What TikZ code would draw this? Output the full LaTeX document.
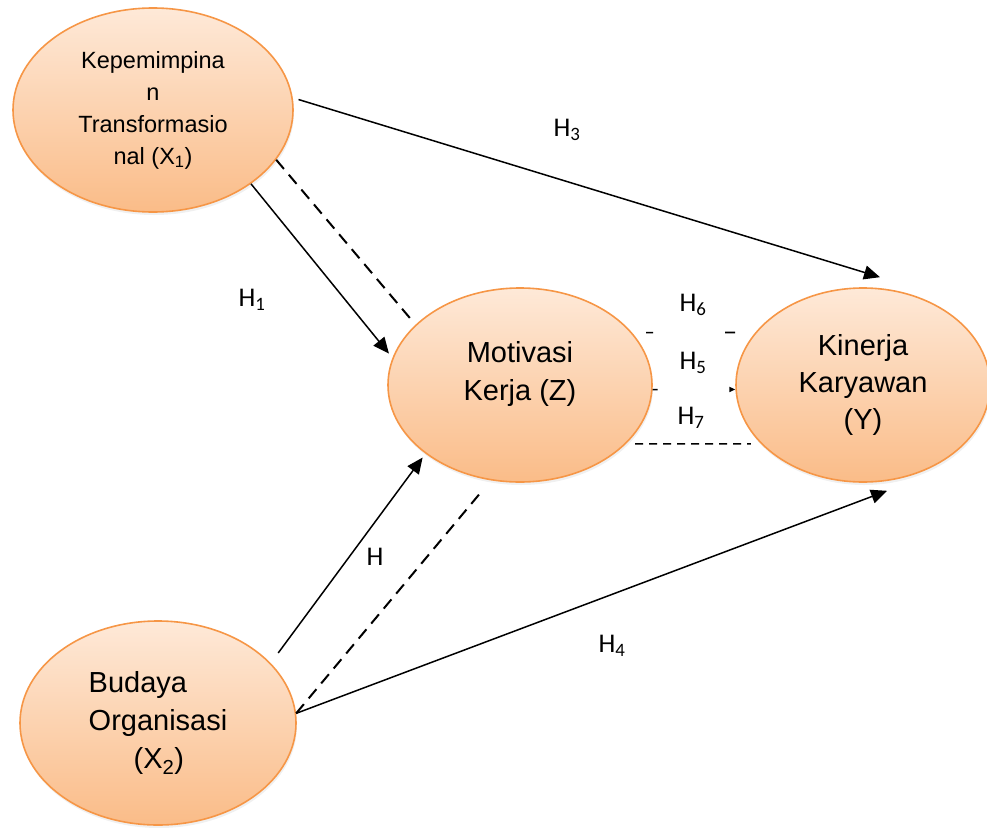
\documentclass[tikz,border=0pt]{standalone}
\usepackage{fontspec}
\setmainfont{Liberation Sans}
\newfontfamily\hypfont{Carlito}
\usetikzlibrary{shapes.geometric,arrows.meta,shadows}
\definecolor{varOrange}{RGB}{246,150,70}
\definecolor{varTop}{RGB}{254,233,216}
\definecolor{varBottom}{RGB}{250,188,136}

\begin{document}
\begin{tikzpicture}[x=1pt, y=1pt,
  var/.style={ellipse, draw=varOrange, line width=1.6pt, top color=varTop, bottom color=varBottom, inner sep=0pt, align=center, font=\fontsize{29}{38}\selectfont, drop shadow={opacity=0.12, shadow xshift=1pt, shadow yshift=-3pt}},
  hyp/.style={font=\hypfont\fontsize{27}{30}\selectfont},
  link/.style={-{Triangle[length=16pt,width=14pt]}, line width=1.5pt},
  dline/.style={line width=2pt, dash pattern=on 12pt off 7.5pt},
  thinline/.style={line width=1.6pt}]
\useasboundingbox (0,0) rectangle (987,-827);

% variables
\node[var, minimum width=280pt, minimum height=204pt, font=\fontsize{23.5}{32}\selectfont] (x1) at (153,-110) {Kepemimpina\\n\\Transformasio\\nal (X\textsubscript{1})};
\node[var, minimum width=264pt, minimum height=194pt, text depth=29pt] (z) at (520,-385) {Motivasi\\Kerja (Z)};
\node[var, minimum width=254pt, minimum height=194pt, font=\fontsize{29}{37}\selectfont] (y) at (863,-385) {Kinerja\\Karyawan\\(Y)};
\node[var, minimum width=276pt, minimum height=204pt, align=left] (x2) at (158,-723) {Budaya\\Organisasi\\\hspace*{45pt}(X\textsubscript{2})};

% hypotheses
\node[hyp] (h1) at (252,-300) {H\textsubscript{1}};
\node[hyp] (h2) at (375,-557) {H};
\node[hyp] (h3) at (567,-130) {H\textsubscript{3}};
\node[hyp] (h4) at (612,-646) {H\textsubscript{4}};
\node[hyp] (h6) at (693,-305) {H\textsubscript{6}};
\node[hyp] (h5) at (693,-363) {H\textsubscript{5}};
\node[hyp] (h7) at (691,-418) {H\textsubscript{7}};

% paths
\draw[link, shorten <=6pt] (x1.5) -- ([xshift=17pt,yshift=10pt]y.north);
\draw[link, shorten >=5.5pt] (x1.323) -- (z.168);
\draw[dline, shorten >=4.5pt] (x1.338) -- (z.150);
\draw[link, shorten <=12.5pt, shorten >=4.8pt] (x2.28) -- (z.216);
\draw[dline, shorten >=12pt] (x2.4) -- (z.253);
\draw[link] (x2.4) -- ([xshift=24pt,yshift=-8pt]y.south);
\draw[thinline, shorten <=14pt, shorten >=20pt, dash pattern=on 7pt off 72pt on 10pt off 10pt] (z.25) -- (y.154);
\draw[-{Triangle[length=6pt,width=5pt]}, thinline, dash pattern=on 5pt off 300pt] (z.-2) -- (y.182);
\draw[thinline, shorten <=9pt, shorten >=10pt, dash pattern=on 8pt off 6pt] (z.-29) -- (y.210);
\end{tikzpicture}
\end{document}
